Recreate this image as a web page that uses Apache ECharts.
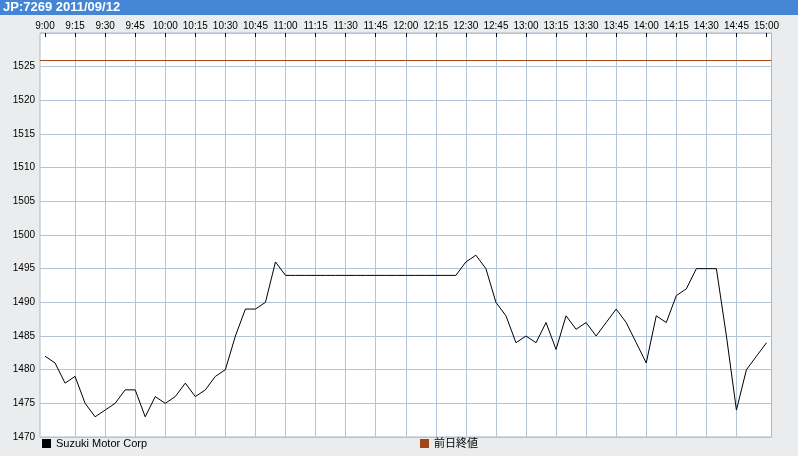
<!DOCTYPE html>
<html>
<head>
<meta charset="utf-8">
<script src="https://cdn.jsdelivr.net/npm/echarts@6/dist/echarts.min.js"></script>
<style>
  html, body { margin: 0; padding: 0; background: #ebeced; }
  #chart { width: 798px; height: 456px; }
</style>
</head>
<body>
<div id="chart"></div>
<script>
var titleText = 'JP:7269 2011/09/12';
var seriesName = 'Suzuki Motor Corp';
var prevName = '前日終値';

var times = [
  '9:00','9:05','9:10','9:15','9:20','9:25','9:30','9:35','9:40','9:45','9:50','9:55',
  '10:00','10:05','10:10','10:15','10:20','10:25','10:30','10:35','10:40','10:45','10:50','10:55',
  '11:00','11:05','11:10','11:15','11:20','11:25','11:30','11:35','11:40','11:45','11:50','11:55',
  '12:00','12:05','12:10','12:15','12:20','12:25','12:30','12:35','12:40','12:45','12:50','12:55',
  '13:00','13:05','13:10','13:15','13:20','13:25','13:30','13:35','13:40','13:45','13:50','13:55',
  '14:00','14:05','14:10','14:15','14:20','14:25','14:30','14:35','14:40','14:45','14:50','14:55',
  '15:00'
];

var prices = [
  1482,1481,1478,1479,1475,1473,1474,1475,1477,1477,1473,1476,
  1475,1476,1478,1476,1477,1479,1480,1485,1489,1489,1490,1496,
  1494,1494,1494,1494,1494,1494,1494,1494,1494,1494,1494,1494,
  1494,1494,1494,1494,1494,1494,1496,1497,1495,1490,1488,1484,
  1485,1484,1487,1483,1488,1486,1487,1485,1487,1489,1487,1484,
  1481,1488,1487,1491,1492,1495,1495,1495,1485,1474,1480,1482,
  1484
];

var prevClose = 1526;

var yMin = 1470, yMax = 1530, yStep = 5;

var FONT = 'Liberation Sans, Noto Sans CJK JP, sans-serif';
var gridColor = '#b4c4d8';

var chart = echarts.init(document.getElementById('chart'), null, { renderer: 'canvas' });
chart.setOption({
  animation: false,
  backgroundColor: '#ebeced',
  textStyle: { fontFamily: FONT },
  graphic: [{
    type: 'rect', left: 0, top: 0, z: 0,
    shape: { width: 798, height: 15 },
    style: { fill: '#4585d6' }
  }],
  title: {
    text: titleText, left: 2, top: 0, padding: [0, 1],
    z: 10,
    textStyle: { color: '#ffffff', fontSize: 13, fontWeight: 'bold', fontFamily: FONT, lineHeight: 15 }
  },
  grid: {
    left: 40, right: 26.5, top: 33, bottom: 19,
    show: true, backgroundColor: '#ffffff', borderColor: '#a9b9cc', borderWidth: 1
  },
  legend: [{
    data: [seriesName], left: 42, top: 438, icon: 'rect',
    itemWidth: 9, itemHeight: 9, padding: 0,
    textStyle: { color: '#000', fontSize: 11, fontFamily: FONT }
  }, {
    data: [prevName], left: 420, top: 438, icon: 'rect',
    itemWidth: 9, itemHeight: 9, padding: 0,
    textStyle: { color: '#000', fontSize: 11, fontFamily: FONT }
  }],
  xAxis: {
    type: 'category', position: 'top', data: times, boundaryGap: true,
    axisLine: { show: false },
    axisTick: { show: true, inside: true, length: 4, interval: 2, alignWithLabel: true,
      lineStyle: { color: '#000', width: 1 } },
    axisLabel: { interval: 2, color: '#000', fontSize: 10, margin: 2, fontFamily: FONT },
    splitLine: { show: true, alignWithLabel: true,
      interval: function (i) { return i % 3 === 0 && i > 0 && i < times.length - 1; },
      lineStyle: { color: gridColor, width: 1 } }
  },
  yAxis: {
    type: 'value', min: yMin, max: yMax, interval: yStep,
    axisLine: { show: false }, axisTick: { show: false },
    axisLabel: { color: '#000', fontSize: 10, margin: 5, fontFamily: FONT,
      formatter: function (v) { return v === yMax ? '' : String(v); } },
    splitLine: { show: true, lineStyle: { color: gridColor, width: 1 } }
  },
  series: [{
    name: seriesName, type: 'line', data: prices,
    showSymbol: false, symbol: 'none',
    itemStyle: { color: '#000000' },
    lineStyle: { color: '#000000', width: 1 },
    z: 5
  }, {
    name: prevName, type: 'line', data: [],
    itemStyle: { color: '#a3461a' },
    lineStyle: { color: '#a3461a', width: 1 },
    markLine: {
      silent: true, symbol: ['none', 'none'],
      label: { show: false },
      lineStyle: { color: '#a3461a', width: 1, type: 'solid' },
      data: [{ yAxis: prevClose }]
    }
  }]
});
</script>
</body>
</html>
